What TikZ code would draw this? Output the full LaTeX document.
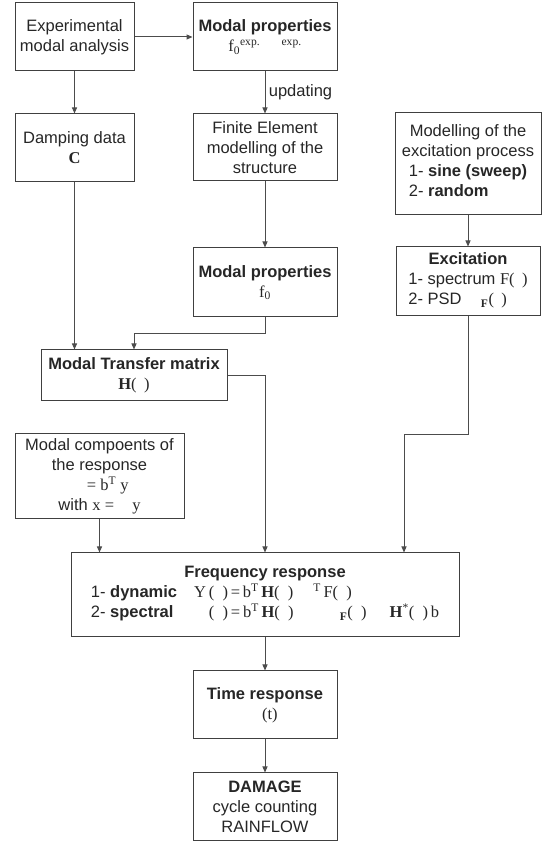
\documentclass[tikz,border=0pt]{standalone}
\usepackage{fontspec}
\setmainfont{Liberation Sans}
\newfontfamily\tms{Liberation Serif}
\usetikzlibrary{arrows.meta}

\begin{document}
\begin{tikzpicture}[x=1pt,y=1pt,
  blk/.style={draw=black!75, line width=1pt, inner sep=0pt, align=center,
    text=black!85, font=\fontsize{16.5}{20}\selectfont},
  link/.style={draw=black!70, line width=1pt, -{Triangle[length=6pt,width=5pt]}}]
\useasboundingbox (0,0) rectangle (544,844);
% upper part
\node[blk, minimum width=119pt, minimum height=68pt] (expmod) at (74.5,807) {Experimental\\modal analysis};
\node[blk, minimum width=144pt, minimum height=68pt] (modexp) at (265,807)
  {\textbf{Modal properties}\\{\tms f\textsubscript{0}\textsuperscript{exp.}\hspace{1.3em}\textsuperscript{exp.}}};
\node[blk, minimum width=144pt, minimum height=67pt] (fem) at (265,696.5) {Finite Element\\modelling of the\\structure};
\node[blk, minimum width=119pt, minimum height=68pt] (damp) at (74.5,696) {Damping data\\{\tms\textbf{C}}};
\node[blk, minimum width=144pt, minimum height=69pt] (modfe) at (265,561.5) {\textbf{Modal properties}\\{\tms f\textsubscript{0}}};
\node[blk, minimum width=146pt, minimum height=102pt] (exmod) at (468,680)
  {Modelling of the\\excitation process\\\begin{tabular}[t]{@{}l@{}}1- \textbf{sine (sweep)}\\2- \textbf{random}\end{tabular}};
\node[blk, minimum width=144pt, minimum height=69pt] (excit) at (468,562.5)
  {\textbf{Excitation}\\\begin{tabular}[t]{@{}l@{}}1- spectrum {\tms F(\hspace{0.45em})}\\2- PSD \hspace{0.9em}{\tms\textsubscript{\textbf{F}}(\hspace{0.45em})}\end{tabular}};
% middle part
\node[blk, minimum width=186pt, minimum height=51pt] (mtm) at (134,468.5) {\textbf{Modal Transfer matrix}\\{\tms\textbf{H}(\hspace{0.45em})}};
\node[blk, minimum width=169pt, minimum height=85pt] (comp) at (99.5,367.5)
  {Modal compoents of\\the response\\\hspace{1em}{\tms = b\textsuperscript{T} y}\\with {\tms x =\hspace{1.1em}y}};
\node[blk, minimum width=388pt, minimum height=84pt] (freq) at (265,249)
  {\textbf{Frequency response}\\\begin{tabular}[t]{@{}l@{\hspace{17pt}}l@{}}
  1- \textbf{dynamic} & {\tms Y\,(\hspace{0.5em})\,=\,b\textsuperscript{T}\,\textbf{H}(\hspace{0.5em})\hspace{1.2em}\textsuperscript{T}\,F(\hspace{0.5em})}\\
  2- \textbf{spectral} & {\tms\hspace{0.9em}(\hspace{0.5em})\,=\,b\textsuperscript{T}\,\textbf{H}(\hspace{0.5em})\hspace{2.8em}\textsubscript{\textbf{F}}(\hspace{0.5em})\hspace{1.4em}\textbf{H}\textsuperscript{*}(\hspace{0.5em})\,b}
  \end{tabular}};
% lower part
\node[blk, minimum width=144pt, minimum height=68pt] (timeresp) at (265,139) {\textbf{Time response}\\\hspace{0.6em}{\tms(t)}};
\node[blk, minimum width=144pt, minimum height=68pt] (damage) at (265,37) {\textbf{DAMAGE}\\cycle counting\\RAINFLOW};
% connectors
\draw[link] (expmod) -- (modexp);
\draw[link] (expmod) -- (damp);
\draw[link] (modexp) -- node[right, text=black!85, font=\fontsize{16.5}{20}\selectfont] {updating} (fem);
\draw[link] (fem) -- (modfe);
\draw[link] (damp) -- (damp |- mtm.north);
\draw[link] (modfe.south) -- ++(0,-16) -| (mtm.north);
\draw[link] (exmod) -- (excit);
\draw[link] (mtm.east) -| (freq.north);
\draw[link] (excit.south) -- ++(0,-118) -| ([xshift=139pt]freq.north);
\draw[link] (comp) -- (comp |- freq.north);
\draw[link] (freq) -- (timeresp);
\draw[link] (timeresp) -- (damage);
\end{tikzpicture}
\end{document}
